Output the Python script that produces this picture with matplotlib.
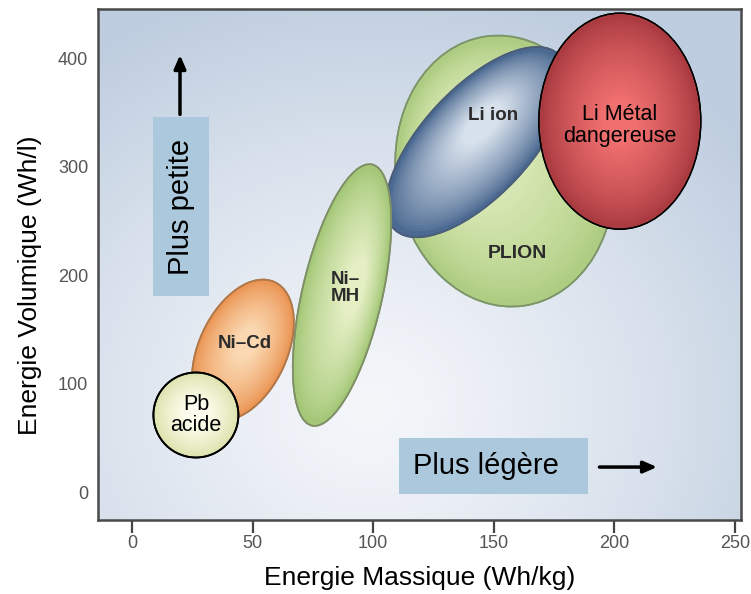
import numpy as np
import matplotlib
matplotlib.use("Agg")
import matplotlib.pyplot as plt
from matplotlib import font_manager
from matplotlib.patches import Ellipse, Rectangle
from matplotlib.transforms import ScaledTranslation

plt.rcParams['font.family'] = ['Liberation Sans', 'DejaVu Sans']

# data: centre of each technology (Wh/kg, Wh/l)
names = ['PLION', 'Li ion', 'Li Métal', 'Ni-MH', 'Ni-Cd', 'Pb acide']
energy_mass = [154.6, 143.0, 202.3, 87.1, 46.0, 26.5]
energy_vol = [295.9, 322.6, 341.9, 181.6, 130.9, 71.0]

# label text and where it sits (Wh/kg, Wh/l)
label_text = ['PLION', 'Li ion', 'Li Métal\ndangereuse', 'Ni–\nMH', 'Ni–Cd', 'Pb\nacide']
label_x = [160.0, 149.7, 202.3, 88.3, 46.8, 26.5]
label_y = [220.3, 347.5, 338.2, 188.0, 137.3, 71.0]

x_ticks = [0, 50, 100, 150, 200, 250]
y_ticks = [0, 100, 200, 300, 400]

# shape of each blob on screen (pixels): width, height, angle
shape_w = [272, 240, 162, 268, 150, 85]
shape_h = [218, 108, 216, 80, 88, 85]
shape_ang = [98, 47, 0, 77, 65, 0]

fill_out = [(175, 205, 130), (75, 105, 145), (170, 60, 65), (165, 200, 120), (235, 150, 85), (222, 228, 175)]
fill_in = [(228, 240, 195), (218, 228, 238), (242, 112, 112), (230, 240, 198), (251, 218, 180), (255, 255, 242)]
edge_col = ['#7d966a', '#4a5e7a', 'black', '#7f9066', '#b07848', 'black']
edge_lw = [1.2, 1.2, 1.0, 1.2, 1.2, 1.3]
hl_off = [(-0.25, 0.3), (0.05, 0.35), (0.0, 0.0), (0.1, 0.2), (0.05, 0.15), (0.0, 0.05)]
label_bold = [True, True, False, True, True, False]
label_size = [14, 13.5, 15.5, 13.5, 13.5, 15.5]


def rgb(c):
    return tuple(v / 255 for v in c)


def blob(ax, fig, i, n=30):
    tr = fig.dpi_scale_trans + ScaledTranslation(energy_mass[i], energy_vol[i], ax.transData)
    w = shape_w[i] / 100
    h = shape_h[i] / 100
    ax.add_patch(Ellipse((0, 0), w, h, angle=shape_ang[i], transform=tr,
                         fc=rgb(fill_out[i]), ec=edge_col[i], lw=edge_lw[i], zorder=2 + i * 0.01))
    c0 = np.array(rgb(fill_out[i]))
    c1 = np.array(rgb(fill_in[i]))
    for k in range(1, n):
        t = k / n
        f = 1 - 0.8 * t
        col = c0 + (c1 - c0) * (t ** 0.8)
        ox = hl_off[i][0] * w * 0.5 * t
        oy = hl_off[i][1] * h * 0.5 * t
        ax.add_patch(Ellipse((ox, oy), w * f * 0.97, h * f * 0.97, angle=shape_ang[i],
                             transform=tr, fc=col, ec='none', zorder=2 + i * 0.01))
    # keep the outline on top
    ax.add_patch(Ellipse((0, 0), w, h, angle=shape_ang[i], transform=tr,
                         fc='none', ec=edge_col[i], lw=edge_lw[i], zorder=2 + i * 0.01))


fig = plt.figure(figsize=(7.51, 5.94), dpi=100)
ax = fig.add_axes([0.1305, 0.1246, 0.856, 0.860])
ax.set_xlim(-14.1, 252.5)
ax.set_ylim(-25.8, 445.2)

# background
yy, xx = np.mgrid[0:1:200j, 0:1:260j]
d = np.sqrt(((xx - 0.42) / 0.75) ** 2 + ((yy - 0.22) / 0.85) ** 2)
d = np.clip(d, 0, 1) ** 1.3
light = np.array([244, 246, 250]) / 255
dark = np.array([190, 205, 223]) / 255
bg = light[None, None, :] + (dark - light)[None, None, :] * d[..., None]
ax.imshow(bg, extent=[0, 1, 0, 1], transform=ax.transAxes, origin='lower',
          aspect='auto', zorder=0, interpolation='bilinear')

for i in range(len(names)):
    blob(ax, fig, i)

for i in range(len(names)):
    ax.text(label_x[i], label_y[i], label_text[i], ha='center', va='center',
            fontsize=label_size[i], fontweight='bold' if label_bold[i] else 'normal',
            color='#2b2b2b' if label_bold[i] else 'black', linespacing=1.05, zorder=5)

# direction hints
ax.add_patch(Rectangle((8.7, 180.6), 23.2, 165.0, fc='#acc8dc', ec='none', zorder=3))
ax.text(20.3, 263, 'Plus petite', rotation=90, ha='center', va='center', fontsize=21, zorder=4)
ax.annotate('', xy=(19.9, 405.5), xytext=(19.9, 345.6),
            arrowprops=dict(arrowstyle='-|>,head_length=0.8,head_width=0.35', color='black', lw=2.5),
            zorder=4)
ax.add_patch(Rectangle((110.7, -1.8), 78.4, 51.6, fc='#acc8dc', ec='none', zorder=3))
ax.text(146.8, 24, 'Plus légère', ha='center', va='center', fontsize=21, zorder=4)
ax.annotate('', xy=(218.9, 23), xytext=(192.7, 23),
            arrowprops=dict(arrowstyle='-|>,head_length=0.8,head_width=0.35', color='black', lw=2.5),
            zorder=4)

# tick labels in the reference look condensed
tick_family = ['Liberation Sans']
tick_size = 13
installed = {f.name for f in font_manager.fontManager.ttflist}
if 'Liberation Sans Narrow' in installed:
    tick_family = ['Liberation Sans Narrow']
    tick_size = 15

ax.set_xticks(x_ticks)
ax.set_yticks(y_ticks)
ax.tick_params(axis='x', length=9, width=1.6, color='#444444', pad=2,
               labelsize=tick_size, labelcolor='#555555')
ax.tick_params(axis='y', length=0, pad=7, labelsize=tick_size, labelcolor='#555555')
for lab in ax.get_xticklabels() + ax.get_yticklabels():
    lab.set_family(tick_family)
for s in ax.spines.values():
    s.set_color('#4a4a4a')
    s.set_linewidth(1.8)
    s.set_zorder(6)

ax.set_xlabel('Energie Massique (Wh/kg)', fontsize=19)
ax.set_ylabel('Energie Volumique (Wh/l)', fontsize=19)
ax.xaxis.set_label_coords(0.5, -0.09)
ax.yaxis.set_label_coords(-0.087, 0.46)

fig.savefig('out.png', dpi=100)
